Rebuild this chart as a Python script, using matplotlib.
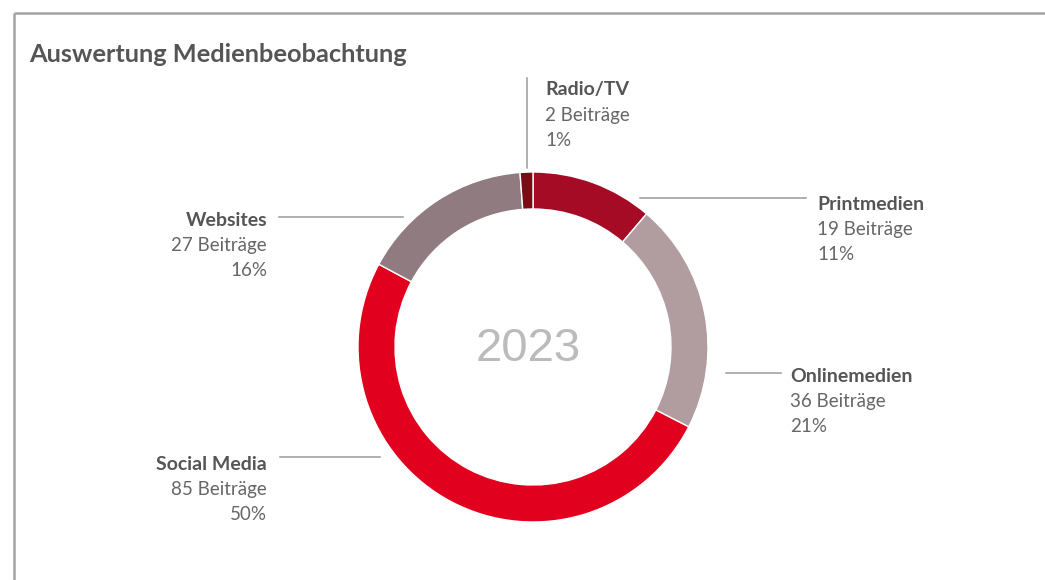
import matplotlib
matplotlib.use("Agg")
import matplotlib.pyplot as plt

# Data
categories = ["Printmedien", "Onlinemedien", "Social Media", "Websites", "Radio/TV"]
counts = [19, 36, 85, 27, 2]
colors = ["#A60B26", "#B19CA0", "#E2001F", "#8F7B80", "#7A0A14"]
title = "Auswertung Medienbeobachtung"
center_label = "2023"

plt.rcParams['font.family'] = ['Lato', 'DejaVu Sans']

W, H = 1045, 580
fig = plt.figure(figsize=(W / 100, H / 100), dpi=100)
ax = fig.add_axes([0, 0, 1, 1])
ax.set_xlim(0, W)
ax.set_ylim(0, H)
ax.set_aspect('equal')
ax.axis('off')

def Y(y):
    return H - y

# frame
ax.plot([14, W], [Y(13), Y(13)], color="#A3A3A3", lw=1.8, solid_capstyle='butt')
ax.plot([14, 14], [Y(13), 0], color="#A3A3A3", lw=1.8, solid_capstyle='butt')

# title
ax.text(29, Y(54), title, fontsize=18.3, fontweight='bold', color="#555555",
        ha='left', va='center')

# donut
cx, cy, R = 533, 347, 175
ax.pie(counts, colors=colors, startangle=90, counterclock=False,
       center=(cx, Y(cy)), radius=R,
       wedgeprops=dict(width=37, edgecolor='white', linewidth=1))
ax.set_xlim(0, W)
ax.set_ylim(0, H)

ax.text(528, Y(349), center_label, fontsize=34, color="#BBBBBB",
        ha='center', va='center', family=['Liberation Sans', 'DejaVu Sans'])

total = sum(counts)

# label layout: (text x, first-line y, alignment, leader line segment)
layout = {
    "Radio/TV": (545, 90, 'left', ((527, 78), (527, 168))),
    "Printmedien": (817, 205, 'left', ((640, 198), (806, 198))),
    "Onlinemedien": (790, 377, 'left', ((726, 373), (781, 373))),
    "Social Media": (267, 464, 'right', ((280, 457), (380, 457))),
    "Websites": (267, 221, 'right', ((279, 217), (403, 217))),
}

for cat, n in zip(categories, counts):
    tx, ty, ha, ((x1, y1), (x2, y2)) = layout[cat]
    ax.plot([x1, x2], [Y(y1), Y(y2)], color="#9A9A9A", lw=1.1)
    ax.text(tx, Y(ty), cat, fontsize=14, fontweight='bold', color="#555555",
            ha=ha, va='center')
    ax.text(tx, Y(ty + 25), f"{n} Beiträge", fontsize=13.5, color="#666666",
            ha=ha, va='center')
    ax.text(tx, Y(ty + 50), f"{round(n / total * 100)}%", fontsize=13.5,
            color="#666666", ha=ha, va='center')

fig.savefig("out.png", dpi=100)
